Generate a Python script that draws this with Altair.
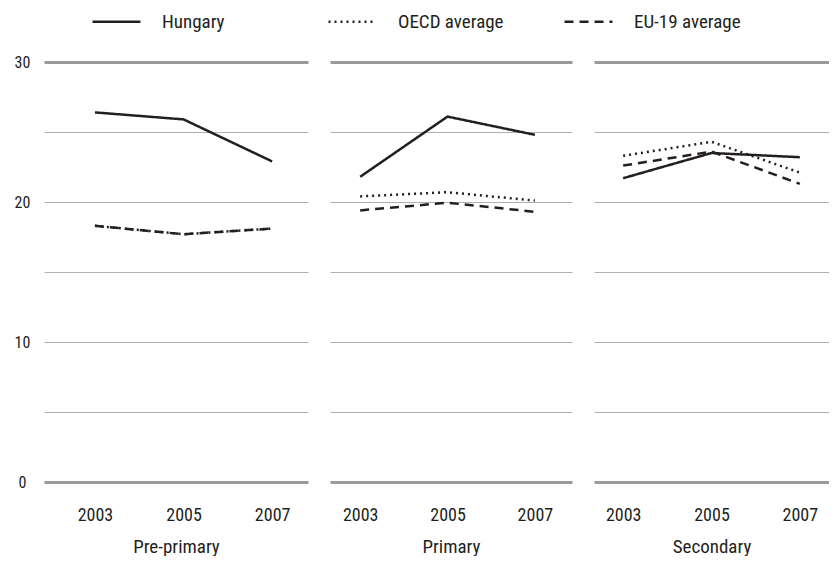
import altair as alt
import pandas as pd

levels = ["Pre-primary", "Primary", "Secondary"]
years = [2003, 2005, 2007]
series = ["Hungary", "OECD average", "EU-19 average"]

hungary = {"Pre-primary": [26.4, 25.9, 22.9],
           "Primary": [21.8, 26.1, 24.8],
           "Secondary": [21.7, 23.5, 23.2]}
oecd = {"Pre-primary": [18.3, 17.7, 18.1],
        "Primary": [20.4, 20.7, 20.1],
        "Secondary": [23.3, 24.3, 22.1]}
eu19 = {"Pre-primary": [18.3, 17.7, 18.1],
        "Primary": [19.4, 19.95, 19.3],
        "Secondary": [22.6, 23.6, 21.3]}

rows = []
for name, src in zip(series, [hungary, oecd, eu19]):
    for lev in levels:
        for yr, v in zip(years, src[lev]):
            rows.append({"series": name, "level": lev, "year": yr, "value": v})
df = pd.DataFrame(rows)

FONT = "Roboto Condensed, Liberation Sans Narrow, Roboto, sans-serif"
INK = "#231f20"

grid_w = {"condition": {"test": "datum.value == 0 || datum.value == 30", "value": 3}, "value": 1}
grid_c = {"condition": {"test": "datum.value == 0 || datum.value == 30", "value": "#9a9a9a"}, "value": "#b0b0b0"}

panel_cfg = [
    ("Pre-primary", 264, [2001.85, 2007.81], True),
    ("Primary", 242, [2002.31, 2007.85], False),
    ("Secondary", 235, [2002.34, 2007.66], False),
]

panels = []
for lev, w, dom, show in panel_cfg:
    yaxis = alt.Axis(values=[0, 5, 10, 15, 20, 25, 30], title=None, domain=False, ticks=False,
                     gridWidth=grid_w, gridColor=grid_c, labels=show,
                     labelExpr="datum.value % 10 == 0 ? datum.label : ''",
                     labelAlign="center", labelPadding=22, labelFontSize=16,
                     labelColor=INK, labelFont=FONT, minExtent=36 if show else 0)
    ch = alt.Chart(df).transform_filter(alt.datum.level == lev).mark_line(
        strokeWidth=2.5, color=INK
    ).encode(
        x=alt.X("year:Q", scale=alt.Scale(domain=dom, nice=False, zero=False),
                axis=alt.Axis(values=years, format="d", title=lev, domain=False, ticks=False,
                              grid=False, labelFontSize=18, labelPadding=24, labelColor=INK,
                              labelFont=FONT, titleFont=FONT, titleFontSize=19,
                              titleFontWeight="normal", titleColor=INK, titlePadding=13)),
        y=alt.Y("value:Q", scale=alt.Scale(domain=[0, 30], nice=False), axis=yaxis),
        strokeDash=alt.StrokeDash("series:N",
                                  scale=alt.Scale(domain=series, range=[[1, 0], [2, 4], [9, 6]]),
                                  legend=alt.Legend(title=None, orient="none", direction="horizontal",
                                                    legendX=47, legendY=-66, gridAlign="all",
                                                    symbolType="stroke", symbolSize=2300,
                                                    symbolStrokeWidth=2.5, symbolStrokeColor=INK,
                                                    labelFont=FONT, labelFontSize=19, labelColor=INK,
                                                    labelOffset=20, columnPadding=54)),
    ).properties(width=w, height=420)
    panels.append(ch)

chart = alt.hconcat(*panels, spacing=22).properties(
    padding={"left": 0, "top": -12, "right": 0, "bottom": 0}
).configure_view(stroke=None)

chart.save("out.html", embed_options={"renderer": "svg", "actions": False})
